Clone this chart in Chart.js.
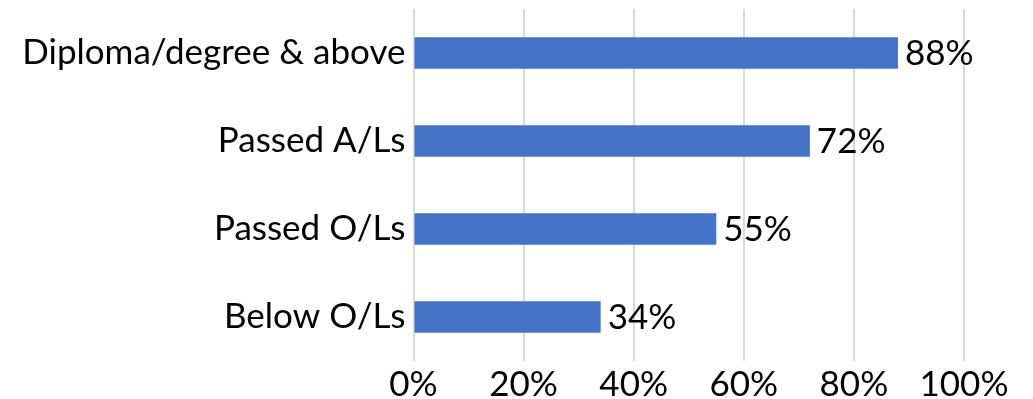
<!DOCTYPE html>
<html>
<head>
<meta charset="utf-8">
<script src="https://cdn.jsdelivr.net/npm/chart.js@4/dist/chart.umd.min.js"></script>
<style>
  html, body { margin: 0; padding: 0; background: #fff; }
  #wrap { width: 1033px; height: 399px; }
</style>
</head>
<body>
<div id="wrap"><canvas id="chart" width="1033" height="399"></canvas></div>
<script>
const categories = ['Diploma/degree & above', 'Passed A/Ls', 'Passed O/Ls', 'Below O/Ls'];
const shares = [88, 72, 55, 34];
const xTicks = [0, 20, 40, 60, 80, 100];

const FONT = 'Lato, "Open Sans", sans-serif';
const FONT_SIZE = 35;

// writes the value next to the end of each bar
const barValueLabels = {
  id: 'barValueLabels',
  afterDatasetsDraw(chart) {
    const ctx = chart.ctx;
    const meta = chart.getDatasetMeta(0);
    ctx.save();
    ctx.font = FONT_SIZE + 'px ' + FONT;
    ctx.fillStyle = '#000';
    ctx.textAlign = 'left';
    ctx.textBaseline = 'middle';
    meta.data.forEach((bar, i) => {
      ctx.fillText(shares[i] + '%', bar.x + 7, bar.y + 1);
    });
    ctx.restore();
  }
};

const ctx = document.getElementById('chart').getContext('2d');
new Chart(ctx, {
  type: 'bar',
  data: {
    labels: categories,
    datasets: [{
      data: shares,
      backgroundColor: '#4472C4',
      borderWidth: 0,
      categoryPercentage: 1,
      barPercentage: 0.36
    }]
  },
  options: {
    indexAxis: 'y',
    responsive: false,
    animation: false,
    layout: { padding: { top: 9, right: 69, left: 0, bottom: 0 } },
    plugins: {
      legend: { display: false },
      tooltip: { enabled: false }
    },
    scales: {
      x: {
        min: 0,
        max: 100,
        afterBuildTicks(scale) {
          scale.ticks = xTicks.map(v => ({ value: v }));
        },
        afterFit(scale) {
          scale.height = 38;
          scale.paddingLeft = 0;
          scale.paddingRight = 0;
        },
        border: { display: false },
        grid: { color: '#d9d9d9', lineWidth: 2, drawTicks: false },
        ticks: {
          padding: 6,
          color: '#000',
          font: { family: FONT, size: FONT_SIZE, lineHeight: 1 },
          callback: v => v + '%'
        }
      },
      y: {
        afterFit(scale) {
          scale.width = 413.5;
          scale.paddingTop = 0;
          scale.paddingBottom = 0;
        },
        border: { display: false },
        grid: { display: false, drawTicks: false },
        ticks: {
          padding: 8,
          color: '#000',
          font: { family: FONT, size: FONT_SIZE }
        }
      }
    }
  },
  plugins: [barValueLabels]
});
</script>
</body>
</html>
